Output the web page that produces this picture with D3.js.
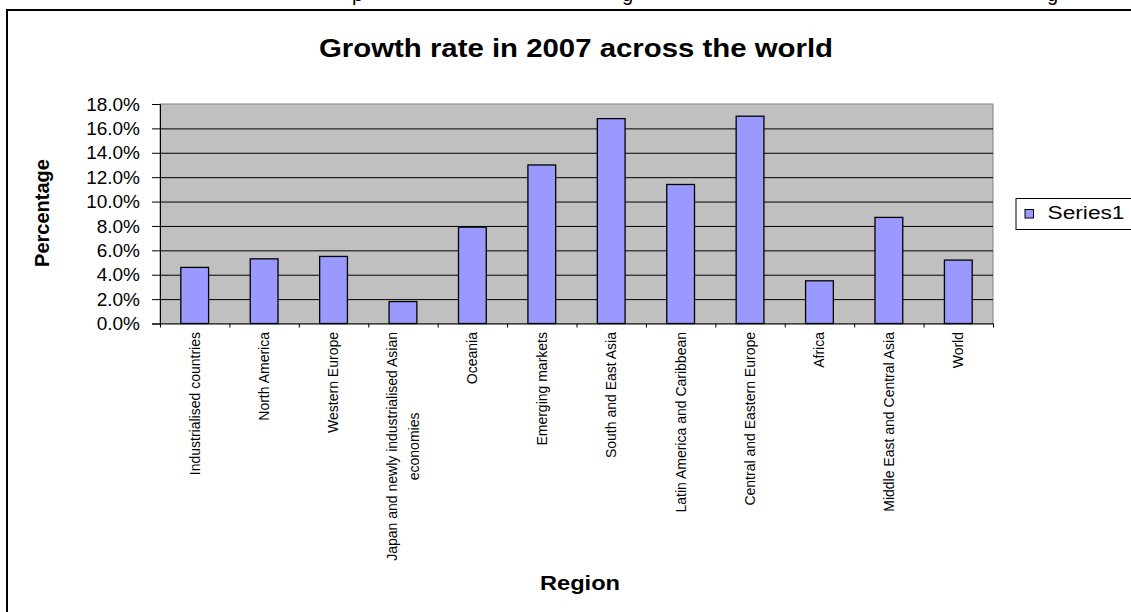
<!DOCTYPE html>
<html>
<head>
<meta charset="utf-8">
<script src="https://cdn.jsdelivr.net/npm/d3@7"></script>
<style>
  body { margin: 0; background: #fff; }
  svg { display: block; font-family: "Liberation Sans", Arial, sans-serif; }
</style>
</head>
<body>
<svg width="1131" height="612"></svg>
<script>
var categories = [
  "Industrialised countries", "North America", "Western Europe",
  "Japan and newly industrialised Asian\neconomies", "Oceania", "Emerging markets",
  "South and East Asia", "Latin America and Caribbean", "Central and Eastern Europe",
  "Africa", "Middle East and Central Asia", "World"
];
var values = [0.046, 0.053, 0.055, 0.018, 0.079, 0.130, 0.168, 0.114, 0.170, 0.035, 0.087, 0.052];
var yTicks = [0, 0.02, 0.04, 0.06, 0.08, 0.10, 0.12, 0.14, 0.16, 0.18];
var seriesName = "Series1";
var title = "Growth rate in 2007 across the world";

(function() {
  var svg = d3.select("svg");
  var plotLeft = 160, plotRight = 993, plotTop = 104, plotBottom = 323.5;

  // cut-off caption descenders above the chart
  svg.append("g").attr("font-size", 20).selectAll("text")
    .data([["p", 352], ["g", 622], ["g", 1047]])
    .enter().append("text")
    .attr("x", function(d) { return d[1]; }).attr("y", 0.5)
    .text(function(d) { return d[0]; });

  // chart area border
  svg.append("rect")
    .attr("x", 7).attr("y", 10).attr("width", 1140).attr("height", 640)
    .attr("fill", "#fff").attr("stroke", "#000").attr("stroke-width", 2);

  var x = d3.scaleBand().domain(categories).range([plotLeft, plotRight])
    .paddingInner(0.6).paddingOuter(0.3);
  var y = d3.scaleLinear().domain([0, 0.18]).range([plotBottom, plotTop]);

  // plot area
  svg.append("rect")
    .attr("x", plotLeft).attr("y", plotTop)
    .attr("width", plotRight - plotLeft).attr("height", plotBottom - plotTop)
    .attr("fill", "#c0c0c0").attr("stroke", "#808080").attr("stroke-width", 1);

  // gridlines
  svg.append("g")
    .attr("transform", "translate(" + plotLeft + ",0)")
    .call(d3.axisLeft(y).tickValues(yTicks.slice(1, -1)).tickSize(-(plotRight - plotLeft)).tickFormat(""))
    .call(function(g) {
      g.select(".domain").remove();
      g.selectAll("line").attr("stroke", "#000").attr("stroke-width", 1);
    });

  // y axis
  svg.append("g")
    .attr("transform", "translate(" + plotLeft + ",0)")
    .call(d3.axisLeft(y).tickValues(yTicks).tickSize(8).tickPadding(12).tickFormat(d3.format(".1%")))
    .call(function(g) {
      g.select(".domain").attr("stroke", "#000");
      g.selectAll("text").attr("font-size", 19)
        .attr("font-family", "'Liberation Sans', Arial, sans-serif").attr("fill", "#000");
    });

  // x axis boundary ticks
  var xb = d3.scaleLinear().domain([0, categories.length]).range([plotLeft, plotRight]);
  svg.append("g")
    .attr("transform", "translate(0," + plotBottom + ")")
    .call(d3.axisBottom(xb).tickValues(d3.range(categories.length + 1))
      .tickSize(4).tickFormat("").tickSizeOuter(0))
    .call(function(g) { g.select(".domain").attr("stroke", "#000"); });

  // bars
  svg.append("g").selectAll("rect")
    .data(values)
    .enter().append("rect")
    .attr("x", function(d, i) { return x(categories[i]); })
    .attr("width", x.bandwidth())
    .attr("y", function(d) { return y(d); })
    .attr("height", function(d) { return y(0) - y(d); })
    .attr("fill", "#9999ff").attr("stroke", "#000").attr("stroke-width", 1.3);

  // category labels (rotated)
  var lab = svg.append("g").attr("font-size", 14);
  categories.forEach(function(c) {
    var lines = c.split("\n");
    var cx = x(c) + x.bandwidth() / 2;
    var g = lab.append("g");
    var texts = lines.map(function(l, j) {
      return g.append("text").attr("dy", "0.35em").text(l)
        .attr("data-off", (j - (lines.length - 1) / 2) * 21.6);
    });
    var maxLen = d3.max(texts, function(t) { return t.node().getComputedTextLength(); });
    texts.forEach(function(t) {
      var cy = 332 + maxLen / 2;
      t.attr("text-anchor", "middle")
        .attr("transform", "translate(" + (cx + +t.attr("data-off")) + "," + cy + ") rotate(-90)");
    });
  });

  // title
  svg.append("text")
    .attr("x", 576).attr("y", 57)
    .attr("text-anchor", "middle").attr("font-weight", "bold").attr("font-size", 25)
    .attr("textLength", 514).attr("lengthAdjust", "spacingAndGlyphs")
    .text(title);

  // axis titles
  svg.append("text")
    .attr("x", 580).attr("y", 590)
    .attr("text-anchor", "middle").attr("font-weight", "bold").attr("font-size", 20)
    .attr("textLength", 80).attr("lengthAdjust", "spacingAndGlyphs")
    .text("Region");

  svg.append("text")
    .attr("transform", "translate(49,213) rotate(-90)")
    .attr("text-anchor", "middle").attr("font-weight", "bold").attr("font-size", 20)
    .text("Percentage");

  // legend
  var leg = svg.append("g");
  leg.append("rect")
    .attr("x", 1016).attr("y", 198.5).attr("width", 140).attr("height", 31)
    .attr("fill", "#fff").attr("stroke", "#000").attr("stroke-width", 1);
  leg.append("rect")
    .attr("x", 1025).attr("y", 209.5).attr("width", 8.5).attr("height", 8.5)
    .attr("fill", "#9999ff").attr("stroke", "#000").attr("stroke-width", 1);
  leg.append("text")
    .attr("x", 1047.5).attr("y", 219)
    .attr("font-size", 18)
    .attr("textLength", 77).attr("lengthAdjust", "spacingAndGlyphs")
    .text(seriesName);
})();
</script>
</body>
</html>
